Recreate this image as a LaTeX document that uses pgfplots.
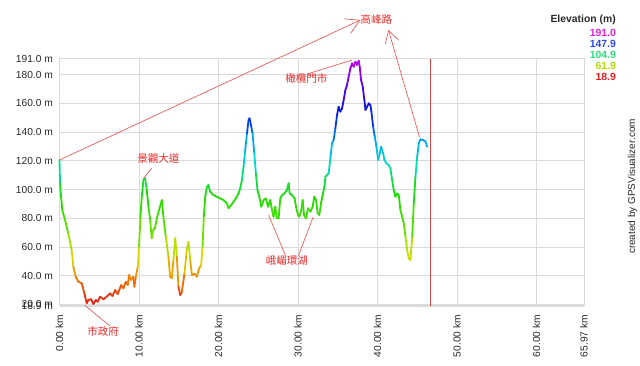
\documentclass[border=0pt]{standalone}
\usepackage{pgfplots}
\pgfplotsset{compat=1.18}
\usepackage{fontspec}
\setmainfont{Liberation Sans}
\newfontfamily\cjk{Noto Sans CJK TC}
\usetikzlibrary{arrows.meta}
\definecolor{gridc}{RGB}{218,218,218}
\definecolor{annot}{RGB}{238,40,40}
\definecolor{annotl}{RGB}{245,70,70}
\definecolor{lab}{RGB}{40,40,40}
\definecolor{endl}{RGB}{205,70,70}
\definecolor{lg1}{RGB}{225,30,225}
\definecolor{lg2}{RGB}{40,70,235}
\definecolor{lg3}{RGB}{40,220,120}
\definecolor{lg4}{RGB}{175,220,0}
\definecolor{lg5}{RGB}{235,30,30}
\pgfplotsset{colormap={elev}{rgb255(0cm)=(235,20,20) rgb255(0.5cm)=(240,70,10) rgb255(1cm)=(240,140,0) rgb255(1.6cm)=(220,215,0) rgb255(2cm)=(170,225,0) rgb255(2.6cm)=(80,225,0) rgb255(3.5cm)=(30,220,0) rgb255(4cm)=(20,220,60) rgb255(4.6cm)=(0,220,200) rgb255(5.3cm)=(0,170,240) rgb255(5.9cm)=(0,60,230) rgb255(6.5cm)=(20,20,220) rgb255(7cm)=(80,0,235) rgb255(7.6cm)=(150,0,250) rgb255(8cm)=(200,0,240)}}
\pgfplotstableread{
x y
0.00 120.6
0.07 104.4
0.20 95.0
0.35 85.8
0.70 78.8
1.10 69.5
1.53 57.9
1.74 46.3
2.04 39.3
2.37 35.8
2.80 34.7
3.13 27.7
3.42 20.8
3.63 23.1
3.97 23.6
4.26 20.3
4.56 23.1
4.81 21.9
5.10 25.4
5.52 23.6
5.94 25.4
6.36 27.7
6.65 25.8
7.00 30.0
7.33 27.2
7.75 33.5
8.04 31.2
8.34 35.8
8.59 33.5
8.75 40.5
9.00 37.0
9.30 39.3
9.42 32.3
9.60 39.3
9.85 46.3
10.00 60.2
10.18 81.1
10.35 95.0
10.56 106.7
10.77 107.9
10.98 99.7
11.19 88.1
11.40 78.8
11.60 66.1
11.80 71.9
12.00 73.0
12.24 80.0
12.53 85.8
12.87 92.7
13.07 81.1
13.37 67.2
13.70 53.2
13.92 39.3
14.13 38.2
14.33 51.0
14.55 66.1
14.76 53.2
14.96 32.3
15.18 26.5
15.39 28.8
15.72 41.5
16.00 57.9
16.22 63.7
16.44 51.0
16.65 40.5
16.98 41.5
17.28 39.3
17.57 45.2
17.82 47.4
17.99 60.2
18.15 81.1
18.33 95.0
18.54 102.0
18.74 103.2
18.95 98.5
19.37 96.2
19.80 95.0
20.20 93.9
20.63 92.7
21.06 90.4
21.26 87.0
21.60 89.3
21.89 91.6
22.19 93.9
22.52 97.4
22.73 100.9
22.95 106.7
23.15 116.0
23.36 127.6
23.58 139.2
23.78 148.5
23.90 149.7
24.12 143.9
24.28 139.2
24.50 125.3
24.70 111.3
24.90 99.7
25.13 95.0
25.38 88.1
25.67 92.7
25.97 93.9
26.22 88.1
26.51 92.7
26.73 85.8
26.93 81.1
27.14 88.1
27.35 80.0
27.56 80.0
27.77 93.9
27.99 96.2
28.30 97.4
28.60 99.7
28.82 104.4
28.94 97.4
29.24 96.2
29.57 93.9
29.75 88.1
30.00 82.3
30.16 81.1
30.42 85.8
30.58 92.7
30.75 82.3
31.00 80.0
31.26 87.0
31.55 84.6
31.84 88.1
32.05 95.0
32.27 92.7
32.47 83.5
32.68 82.3
32.93 91.6
33.15 97.4
33.35 103.2
33.44 109.0
33.65 110.2
33.85 111.3
34.07 121.8
34.28 132.3
34.48 134.6
34.70 142.7
34.91 152.0
35.11 157.8
35.33 154.3
35.54 156.6
35.74 162.4
35.96 169.4
36.17 172.9
36.37 178.7
36.59 184.5
36.80 188.0
37.00 185.6
37.22 189.1
37.43 186.8
37.63 189.8
37.76 185.6
37.93 176.4
38.14 171.7
38.35 162.4
38.48 155.5
38.69 157.8
38.90 160.1
39.10 159.0
39.23 154.3
39.45 143.8
39.65 136.9
39.86 129.9
40.08 120.6
40.28 125.3
40.45 129.9
40.70 125.3
40.87 120.6
41.12 118.3
41.41 117.1
41.62 114.8
41.84 106.7
42.04 99.7
42.25 95.0
42.47 97.4
42.67 96.2
42.88 85.8
43.10 81.1
43.30 76.5
43.52 67.2
43.73 57.9
43.93 52.1
44.14 51.0
44.36 67.2
44.56 90.4
44.77 109.0
44.99 122.9
45.19 132.3
45.40 135.0
45.74 134.6
46.03 133.4
46.24 129.9
}\elevdata
\begin{document}
\begin{tikzpicture}[x=1pt,y=1pt]
\useasboundingbox (0,0) rectangle (640,366);
\begin{axis}[
  at={(59.5pt,60pt)}, anchor=south west,
  scale only axis, width=524.5pt, height=247pt,
  xmin=0, xmax=65.97, ymin=18.9, ymax=191.0,
  colormap name=elev, point meta min=18.9, point meta max=191.0,
  clip=false,
  axis line style={draw=gridc, line width=1pt},
  grid=major, grid style={draw=gridc, line width=1pt},
  major tick length=0pt,
  tick style={draw=none},
  /pgf/number format/assume math mode=true,
  xtick={0,10,20,30,40,50,60,65.97},
  xticklabels={0.00 km,10.00 km,20.00 km,30.00 km,40.00 km,50.00 km,60.00 km,65.97 km},
  xticklabel style={rotate=90, anchor=east, inner sep=0pt, font=\fontsize{10.2}{12}\selectfont, text=lab},
  xticklabel shift=9pt,
  ytick={18.9,20,40,60,80,100,120,140,160,180,191},
  yticklabels={18.9 m,20.0 m,40.0 m,60.0 m,80.0 m,100.0 m,120.0 m,140.0 m,160.0 m,180.0 m,191.0 m},
  yticklabel style={anchor=east, inner sep=0pt, font=\fontsize{10.2}{12}\selectfont, text=lab},
  yticklabel shift=6.5pt,
]
\draw[gridc, line width=2pt] (axis cs:0,18.9) -- (axis cs:65.97,18.9);
\draw[endl, line width=0.5pt] (axis cs:46.6,18.9) -- (axis cs:46.6,191.0);
\addplot[mesh, line width=1.8pt, line cap=round, line join=round, point meta=y] table[x=x,y=y] {\elevdata};
% annotations
\draw[annotl, line width=0.6pt, -{Straight Barb[length=14pt,width=16pt]}] (axis cs:0,120.6) -- (axis cs:37.85,218.2);
\draw[annotl, line width=0.6pt, -{Straight Barb[length=12pt,width=14pt]}] (axis cs:45.28,136.6) -- (axis cs:41.37,211.2);
\node[text=annot, font=\cjk\fontsize{10.5}{12}\selectfont, inner sep=0pt] at (axis cs:39.86,218.2) {高峰路};
\draw[annotl, line width=0.6pt] (axis cs:31.13,180.5) -- (axis cs:36.8,190.3);
\node[text=annot, font=\cjk\fontsize{10.5}{12}\selectfont, inner sep=0pt] at (axis cs:31.05,177.1) {橄欖門市};
\draw[annotl, line width=0.6pt] (axis cs:11.61,114.8) -- (axis cs:10.55,107.8);
\node[text=annot, font=\cjk\fontsize{10.5}{12}\selectfont, inner sep=0pt] at (axis cs:12.44,121.8) {景觀大道};
\draw[annotl, line width=0.6pt] (axis cs:3.21,19.2) -- (axis cs:6.36,4.9);
\node[text=annot, font=\cjk\fontsize{10.5}{12}\selectfont, inner sep=0pt] at (axis cs:5.48,1.45) {市政府};
\draw[annotl, line width=0.6pt] (axis cs:26.3,82.3) -- (axis cs:28.4,54.4);
\draw[annotl, line width=0.6pt] (axis cs:31.9,80.9) -- (axis cs:30.08,54.4);
\node[text=annot, font=\cjk\fontsize{10.5}{12}\selectfont, inner sep=0pt] at (axis cs:28.61,50.9) {峨嵋環湖};
\end{axis}
% legend
\node[anchor=east, inner sep=0pt, font=\bfseries\fontsize{10.4}{12}\selectfont, text=lab] at (616,346) {Elevation (m)};
\node[anchor=east, inner sep=0pt, font=\bfseries\fontsize{10.4}{12}\selectfont, text=lg1] at (616,333.5) {191.0};
\node[anchor=east, inner sep=0pt, font=\bfseries\fontsize{10.4}{12}\selectfont, text=lg2] at (616,322.3) {147.9};
\node[anchor=east, inner sep=0pt, font=\bfseries\fontsize{10.4}{12}\selectfont, text=lg3] at (616,311.1) {104.9};
\node[anchor=east, inner sep=0pt, font=\bfseries\fontsize{10.4}{12}\selectfont, text=lg4] at (616,299.9) {61.9};
\node[anchor=east, inner sep=0pt, font=\bfseries\fontsize{10.4}{12}\selectfont, text=lg5] at (616,288.7) {18.9};
\node[rotate=90, inner sep=0pt, font=\fontsize{10}{12}\selectfont, text=lab] at (632.5,179.5) {created by GPSVisualizer.com};
\end{tikzpicture}
\end{document}
